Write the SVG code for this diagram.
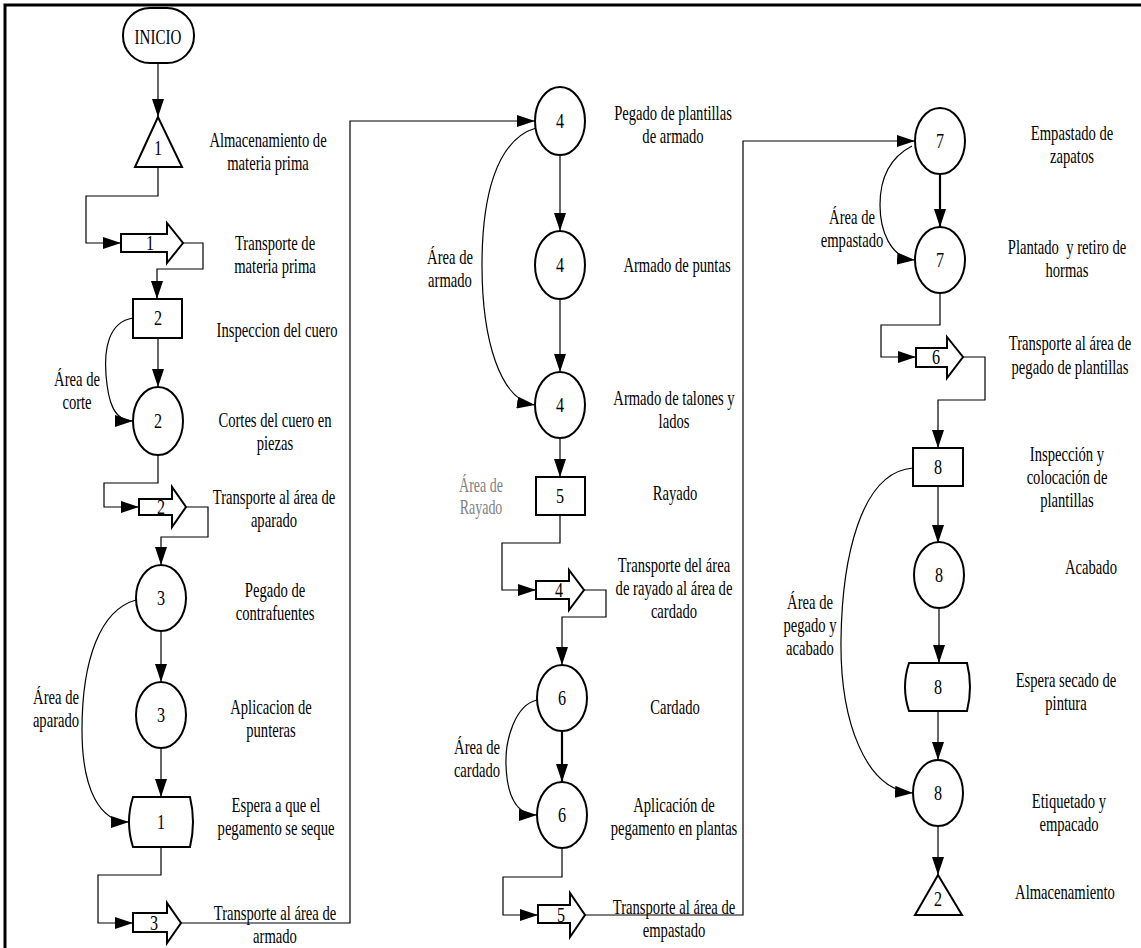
<svg xmlns="http://www.w3.org/2000/svg" width="1141" height="948" viewBox="0 0 1141 948">
<style>
.s{fill:#fff;stroke:#000;stroke-width:2}
.c{fill:none;stroke:#000;stroke-width:1.2}
.k{fill:none;stroke:#000;stroke-width:2.2}
.t{font-family:"Liberation Serif","Times New Roman",serif;font-size:21.5px;fill:#000;text-anchor:middle}
.g{fill:#808080;font-size:20px}
.pre{white-space:pre}
</style>
<defs>
<marker id="a" viewBox="0 0 18 12" refX="18" refY="6" markerWidth="18" markerHeight="12" markerUnits="userSpaceOnUse" orient="auto"><path d="M0,0L18,6L0,12z"/></marker>
</defs>
<rect width="1141" height="948" fill="#fff"/>
<path d="M5,948V5H1141" fill="none" stroke="#000" stroke-width="3"/>

<g id="connectors">
<path class="c" d="M158,63V117" marker-end="url(#a)"/>
<path class="c" d="M158,167V196H86V243H121" marker-end="url(#a)"/>
<path class="c" d="M183,243H203V269H157V299" marker-end="url(#a)"/>
<path class="c" d="M158,338V387" marker-end="url(#a)"/>
<path class="c" d="M133,318C108,322 104,350 106,375C108,400 113,421 133,421" marker-end="url(#a)"/>
<path class="c" d="M158,455V483H104V507H139" marker-end="url(#a)"/>
<path class="c" d="M186,507H208V537H161V565" marker-end="url(#a)"/>
<path class="c" d="M161,631V682" marker-end="url(#a)"/>
<path class="c" d="M161,748V797" marker-end="url(#a)"/>
<path class="c" d="M136,600C100,610 82,660 82,730C82,790 100,822 129,822" marker-end="url(#a)"/>
<path class="c" d="M161,847V875H98V923H133" marker-end="url(#a)"/>
<path class="c" d="M181,923H350V121H535" marker-end="url(#a)"/>
<path class="c" d="M560,155V231" marker-end="url(#a)"/>
<path class="c" d="M560,299V372" marker-end="url(#a)"/>
<path class="c" d="M536,128C495,140 482,200 482,265C482,340 500,400 535,405" marker-end="url(#a)"/>
<path class="c" d="M560,438V477" marker-end="url(#a)"/>
<path class="c" d="M560,515V543H502V590H536" marker-end="url(#a)"/>
<path class="c" d="M584,590H606V617H562V665" marker-end="url(#a)"/>
<path class="k" d="M562,731V782" marker-end="url(#a)"/>
<path class="c" d="M537,700C515,705 505,740 506,765C507,795 515,815 537,815" marker-end="url(#a)"/>
<path class="c" d="M562,848V877H503V915H538" marker-end="url(#a)"/>
<path class="c" d="M585,915H743V141H915" marker-end="url(#a)"/>
<path class="k" d="M940,174V227" marker-end="url(#a)"/>
<path class="c" d="M912,146C885,160 880,185 880,205C880,230 890,258 915,260" marker-end="url(#a)"/>
<path class="c" d="M940,293V325H881V357H916" marker-end="url(#a)"/>
<path class="c" d="M963,357H985V400H938V448" marker-end="url(#a)"/>
<path class="c" d="M938,486V543" marker-end="url(#a)"/>
<path class="c" d="M913,468C860,472 842,560 841,640C840,720 865,790 913,793" marker-end="url(#a)"/>
<path class="c" d="M939,608V663" marker-end="url(#a)"/>
<path class="c" d="M938,711V760" marker-end="url(#a)"/>
<path class="c" d="M938,826V875" marker-end="url(#a)"/>
</g>

<g id="inicio">
<rect class="s" x="123" y="8" width="71" height="55" rx="27"/>
<text class="t" transform="translate(158,44) scale(0.7,1)">INICIO</text>
</g>

<g id="almacen1">
<path class="s" d="M158,117L135,167H182Z"/>
<text class="t" transform="translate(158,155) scale(0.75,1)">1</text>
<text class="t" transform="translate(268,147) scale(0.68,1)"><tspan x="0">Almacenamiento de</tspan><tspan x="0" dy="23">materia prima</tspan></text>
</g>

<g id="transporte1">
<path class="s" d="M121,234H167V223L183,243L167,263V252H121Z"/>
<text class="t" transform="translate(150,250) scale(0.75,1)">1</text>
<text class="t" transform="translate(275,250) scale(0.68,1)"><tspan x="0">Transporte de</tspan><tspan x="0" dy="23">materia prima</tspan></text>
</g>

<g id="inspeccion2">
<rect class="s" x="133" y="299" width="49" height="39"/>
<text class="t" transform="translate(158,325) scale(0.75,1)">2</text>
<text class="t" transform="translate(277,337) scale(0.68,1)">Inspeccion del cuero</text>
</g>

<g id="operacion2">
<ellipse class="s" cx="158" cy="421" rx="25" ry="34"/>
<text class="t" transform="translate(158,428) scale(0.75,1)">2</text>
<text class="t" transform="translate(275,427) scale(0.68,1)"><tspan x="0">Cortes del cuero en</tspan><tspan x="0" dy="23">piezas</tspan></text>
<text class="t" transform="translate(77,386) scale(0.68,1)"><tspan x="0">Área de</tspan><tspan x="0" dy="23">corte</tspan></text>
</g>

<g id="transporte2">
<path class="s" d="M139,499H172V487L186,507L172,527V515H139Z"/>
<text class="t" transform="translate(161,514) scale(0.75,1)">2</text>
<text class="t" transform="translate(274,504) scale(0.68,1)"><tspan x="0">Transporte al área de</tspan><tspan x="0" dy="23">aparado</tspan></text>
</g>

<g id="operacion3a">
<ellipse class="s" cx="161" cy="598" rx="25" ry="33"/>
<text class="t" transform="translate(161,605) scale(0.75,1)">3</text>
<text class="t" transform="translate(275,597) scale(0.68,1)"><tspan x="0">Pegado de</tspan><tspan x="0" dy="23">contrafuentes</tspan></text>
</g>

<g id="operacion3b">
<ellipse class="s" cx="161" cy="715" rx="25" ry="33"/>
<text class="t" transform="translate(161,722) scale(0.75,1)">3</text>
<text class="t" transform="translate(271,714) scale(0.68,1)"><tspan x="0">Aplicacion de</tspan><tspan x="0" dy="23">punteras</tspan></text>
<text class="t" transform="translate(56,704) scale(0.68,1)"><tspan x="0">Área de</tspan><tspan x="0" dy="23">aparado</tspan></text>
</g>

<g id="espera1">
<path class="s" d="M133,797H190Q196,822 190,847H133Q125,822 133,797Z"/>
<text class="t" transform="translate(161,829) scale(0.75,1)">1</text>
<text class="t" transform="translate(276,812) scale(0.68,1)"><tspan x="0">Espera a que el</tspan><tspan x="0" dy="23">pegamento se seque</tspan></text>
</g>

<g id="transporte3">
<path class="s" d="M133,913H167V903L181,923L167,943V932H133Z"/>
<text class="t" transform="translate(154,930) scale(0.75,1)">3</text>
<text class="t" transform="translate(275,920) scale(0.68,1)"><tspan x="0">Transporte al área de</tspan><tspan x="0" dy="23">armado</tspan></text>
</g>

<g id="operacion4a">
<ellipse class="s" cx="560" cy="121" rx="25" ry="34"/>
<text class="t" transform="translate(560,128) scale(0.75,1)">4</text>
<text class="t" transform="translate(673,120) scale(0.68,1)"><tspan x="0">Pegado de plantillas</tspan><tspan x="0" dy="23">de armado</tspan></text>
</g>

<g id="operacion4b">
<ellipse class="s" cx="560" cy="265" rx="25" ry="34"/>
<text class="t" transform="translate(560,272) scale(0.75,1)">4</text>
<text class="t" transform="translate(677,272) scale(0.68,1)">Armado de puntas</text>
<text class="t" transform="translate(450,264) scale(0.68,1)"><tspan x="0">Área de</tspan><tspan x="0" dy="23">armado</tspan></text>
</g>

<g id="operacion4c">
<ellipse class="s" cx="560" cy="405" rx="25" ry="33"/>
<text class="t" transform="translate(560,412) scale(0.75,1)">4</text>
<text class="t" transform="translate(674,405) scale(0.68,1)"><tspan x="0">Armado de talones y</tspan><tspan x="0" dy="23">lados</tspan></text>
</g>

<g id="inspeccion5">
<rect class="s" x="536" y="477" width="49" height="38"/>
<text class="t" transform="translate(560,503) scale(0.75,1)">5</text>
<text class="t" transform="translate(675,500) scale(0.68,1)">Rayado</text>
<text class="t g" transform="translate(481,492) scale(0.7,1)"><tspan x="0">Área de</tspan><tspan x="0" dy="22">Rayado</tspan></text>
</g>

<g id="transporte4">
<path class="s" d="M536,581H569V570L584,590L569,610V599H536Z"/>
<text class="t" transform="translate(559,597) scale(0.75,1)">4</text>
<text class="t" transform="translate(674,572) scale(0.68,1)"><tspan x="0">Transporte del área</tspan><tspan x="0" dy="23">de rayado al área de</tspan><tspan x="0" dy="23">cardado</tspan></text>
</g>

<g id="operacion6a">
<ellipse class="s" cx="562" cy="698" rx="25" ry="33"/>
<text class="t" transform="translate(562,705) scale(0.75,1)">6</text>
<text class="t" transform="translate(675,714) scale(0.68,1)">Cardado</text>
</g>

<g id="operacion6b">
<ellipse class="s" cx="562" cy="815" rx="25" ry="33"/>
<text class="t" transform="translate(562,822) scale(0.75,1)">6</text>
<text class="t" transform="translate(674,812) scale(0.68,1)"><tspan x="0">Aplicación de</tspan><tspan x="0" dy="23">pegamento en plantas</tspan></text>
<text class="t" transform="translate(477,754) scale(0.68,1)"><tspan x="0">Área de</tspan><tspan x="0" dy="23">cardado</tspan></text>
</g>

<g id="transporte5">
<path class="s" d="M538,905H570V893L585,915L570,937V923H538Z"/>
<text class="t" transform="translate(561,922) scale(0.75,1)">5</text>
<text class="t" transform="translate(674,914) scale(0.68,1)"><tspan x="0">Transporte al área de</tspan><tspan x="0" dy="23">empastado</tspan></text>
</g>

<g id="operacion7a">
<ellipse class="s" cx="940" cy="141" rx="25" ry="33"/>
<text class="t" transform="translate(940,148) scale(0.75,1)">7</text>
<text class="t" transform="translate(1072,140) scale(0.68,1)"><tspan x="0">Empastado de</tspan><tspan x="0" dy="23">zapatos</tspan></text>
</g>

<g id="operacion7b">
<ellipse class="s" cx="940" cy="260" rx="25" ry="33"/>
<text class="t" transform="translate(940,267) scale(0.75,1)">7</text>
<text class="t pre" transform="translate(1067,254) scale(0.68,1)"><tspan x="0">Plantado  y retiro de</tspan><tspan x="0" dy="23">hormas</tspan></text>
<text class="t" transform="translate(852,224) scale(0.68,1)"><tspan x="0">Área de</tspan><tspan x="0" dy="23">empastado</tspan></text>
</g>

<g id="transporte6">
<path class="s" d="M916,348H947V337L963,357L947,378V367H916Z"/>
<text class="t" transform="translate(936,364) scale(0.75,1)">6</text>
<text class="t" transform="translate(1070,350) scale(0.68,1)"><tspan x="0">Transporte al área de</tspan><tspan x="0" dy="24">pegado de plantillas</tspan></text>
</g>

<g id="inspeccion8">
<rect class="s" x="913" y="448" width="50" height="38"/>
<text class="t" transform="translate(938,474) scale(0.75,1)">8</text>
<text class="t" transform="translate(1067,461) scale(0.68,1)"><tspan x="0">Inspección y</tspan><tspan x="0" dy="23">colocación de</tspan><tspan x="0" dy="23">plantillas</tspan></text>
</g>

<g id="operacion8a">
<ellipse class="s" cx="939" cy="575" rx="25" ry="33"/>
<text class="t" transform="translate(939,582) scale(0.75,1)">8</text>
<text class="t" transform="translate(1091,574) scale(0.68,1)">Acabado</text>
<text class="t" transform="translate(810,609) scale(0.68,1)"><tspan x="0">Área de</tspan><tspan x="0" dy="23">pegado y</tspan><tspan x="0" dy="23">acabado</tspan></text>
</g>

<g id="espera8">
<path class="s" d="M909,663H967Q973,687 967,711H909Q901,687 909,663Z"/>
<text class="t" transform="translate(938,694) scale(0.75,1)">8</text>
<text class="t" transform="translate(1066,687) scale(0.68,1)"><tspan x="0">Espera secado de</tspan><tspan x="0" dy="23">pintura</tspan></text>
</g>

<g id="operacion8b">
<ellipse class="s" cx="938" cy="793" rx="25" ry="33"/>
<text class="t" transform="translate(938,800) scale(0.75,1)">8</text>
<text class="t" transform="translate(1069,808) scale(0.68,1)"><tspan x="0">Etiquetado y</tspan><tspan x="0" dy="23">empacado</tspan></text>
</g>

<g id="almacen2">
<path class="s" d="M938,875L915,915H962Z"/>
<text class="t" transform="translate(938,906) scale(0.75,1)">2</text>
<text class="t" transform="translate(1065,899) scale(0.68,1)">Almacenamiento</text>
</g>
</svg>
